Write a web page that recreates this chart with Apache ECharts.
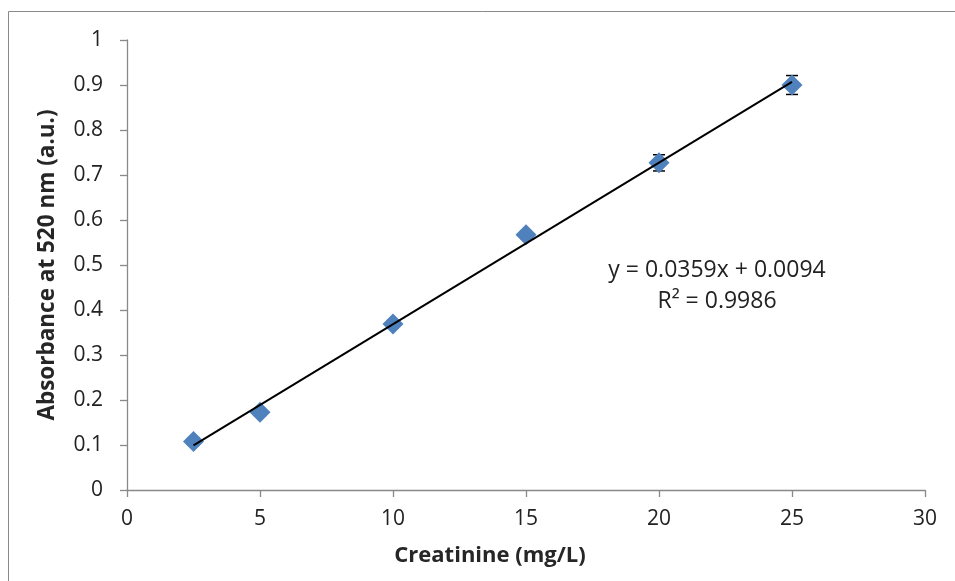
<!DOCTYPE html>
<html><head><meta charset="utf-8">
<script src="https://cdn.jsdelivr.net/npm/echarts@6/dist/echarts.min.js"></script>
<style>html,body{margin:0;padding:0;background:#fff}#c{width:955px;height:581px}</style>
</head><body><div id="c"></div>
<script>
const concentrations = [2.5, 5, 10, 15, 20, 25];
const absorbance = [0.108, 0.173, 0.369, 0.567, 0.727, 0.900];
const errors = [0.008, 0.008, 0.008, 0.008, 0.018, 0.021];
const slope = 0.0359, intercept = 0.0094;
const xTicks = [0, 5, 10, 15, 20, 25, 30];
const yTicks = [0, 0.1, 0.2, 0.3, 0.4, 0.5, 0.6, 0.7, 0.8, 0.9, 1];
const equationText = 'y = 0.0359x + 0.0094';
const r2Text = 'R² = 0.9986';

const FONT = 'Open Sans';
const chart = echarts.init(document.getElementById('c'), null, {renderer: 'canvas'});
const pts = concentrations.map((x, i) => [x, absorbance[i]]);
const errData = concentrations.map((x, i) => [x, absorbance[i] - errors[i], absorbance[i] + errors[i]]);
const xMin = concentrations[0], xMax = concentrations[concentrations.length - 1];
const trend = [[xMin, slope * xMin + intercept], [xMax, slope * xMax + intercept]];

chart.setOption({
  animation: false,
  backgroundColor: '#fff',
  grid: {left: 127, right: 30, top: 40, bottom: 91},
  xAxis: {
    type: 'value', min: 0, max: 30, interval: 5,
    name: 'Creatinine (mg/L)', nameLocation: 'middle', nameGap: 55,
    nameTextStyle: {fontFamily: FONT, fontWeight: 'bold', fontSize: 22, color: '#262626', padding: [0, 72, 0, 0]},
    axisLine: {show: true, onZero: false, lineStyle: {color: '#898989', width: 1.3}},
    axisTick: {show: true, inside: false, length: 7, lineStyle: {color: '#898989', width: 1.3}},
    axisLabel: {fontFamily: FONT, fontSize: 21, color: '#222', margin: 19, formatter: v => xTicks.includes(v) ? String(v) : ''},
    splitLine: {show: false}
  },
  yAxis: {
    type: 'value', min: 0, max: 1, interval: 0.1,
    name: 'Absorbance at 520 nm (a.u.)', nameLocation: 'middle', nameGap: 68,
    nameTextStyle: {fontFamily: FONT, fontWeight: 'bold', fontSize: 22.5, color: '#262626'},
    axisLine: {show: true, lineStyle: {color: '#898989', width: 1.3}},
    axisTick: {show: true, inside: false, length: 7, lineStyle: {color: '#898989', width: 1.3}},
    axisLabel: {fontFamily: FONT, fontSize: 21, color: '#222', margin: 24,
      formatter: v => { const t = yTicks.find(y => Math.abs(y - v) < 1e-9); return t === undefined ? '' : String(+t.toFixed(1)); }},
    splitLine: {show: false}
  },
  graphic: [
    {type: 'rect', shape: {x: 8.5, y: 11.5, width: 1000, height: 700}, style: {fill: 'none', stroke: '#8a8a8a', lineWidth: 1}, silent: true, z: -1},
    {type: 'text', x: 717, y: 270, style: {text: equationText, font: '23px "Open Sans"', fill: '#222', align: 'center', verticalAlign: 'middle'}},
    {type: 'text', x: 717, y: 301, style: {text: r2Text, font: '23px "Open Sans"', fill: '#222', align: 'center', verticalAlign: 'middle'}}
  ],
  series: [
    {
      type: 'custom', z: 3,
      data: errData,
      renderItem: (params, api) => {
        const x = api.value(0);
        const lo = api.coord([x, api.value(1)]);
        const hi = api.coord([x, api.value(2)]);
        const w = 6;
        const st = {stroke: '#000', lineWidth: 1.5};
        return {type: 'group', children: [
          {type: 'line', shape: {x1: lo[0], y1: lo[1], x2: hi[0], y2: hi[1]}, style: st},
          {type: 'line', shape: {x1: lo[0] - w, y1: lo[1], x2: lo[0] + w, y2: lo[1]}, style: st},
          {type: 'line', shape: {x1: hi[0] - w, y1: hi[1], x2: hi[0] + w, y2: hi[1]}, style: st}
        ]};
      }
    },
    {
      type: 'scatter', z: 4,
      data: pts,
      symbol: 'diamond', symbolSize: [21, 21],
      itemStyle: {color: '#4f81bd', opacity: 1}
    },
    {
      type: 'line', z: 5,
      data: trend, showSymbol: false, symbol: 'none',
      lineStyle: {color: '#000', width: 2}
    }
  ]
});
</script></body></html>
